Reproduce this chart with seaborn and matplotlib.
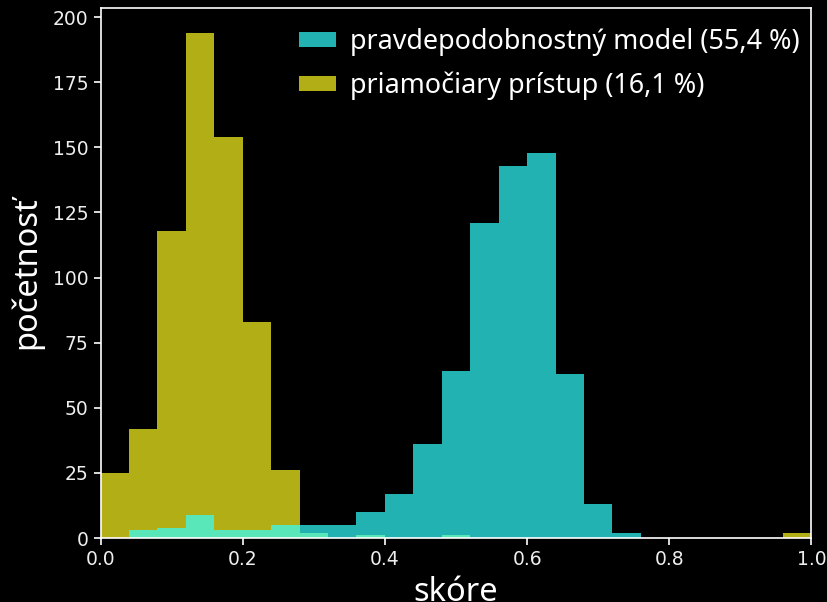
import numpy as np
import pandas as pd
import matplotlib
matplotlib.use("Agg")
import matplotlib.pyplot as plt
import seaborn as sns

# Histogram bins: 25 bins of width 0.04 on [0, 1]
bin_width = 0.04
bin_edges = np.linspace(0.0, 1.0, 26)
bin_centers = (bin_edges[:-1] + bin_edges[1:]) / 2

label_model = "pravdepodobnostný model (55,4 %)"
label_direct = "priamočiary prístup (16,1 %)"

# Counts per bin for each method
counts_model = [0, 3, 4, 9, 3, 3, 5, 5, 5, 10, 17, 36, 64,
                121, 143, 148, 63, 13, 2, 0, 0, 0, 0, 0, 0]
counts_direct = [25, 42, 118, 194, 154, 83, 26, 2, 0, 1, 0, 0, 1,
                 0, 0, 0, 0, 0, 0, 0, 0, 0, 0, 0, 2]

df = pd.DataFrame({
    "skóre": np.concatenate([bin_centers, bin_centers]),
    "počet": counts_model + counts_direct,
    "metóda": [label_model] * len(bin_centers) + [label_direct] * len(bin_centers),
})

sns.set_style("dark", {"axes.facecolor": "black", "figure.facecolor": "black"})
plt.rcParams["font.family"] = ["DejaVu Sans"]

fig = plt.figure(figsize=(8.28, 6.02), dpi=100)
ax = fig.add_axes([0.1214, 0.1063, 0.8586, 0.8812])
ax.set_facecolor("black")
fig.patch.set_facecolor("black")

palette = {label_model: "#33ffff", label_direct: "#fffa20"}
sns.histplot(
    data=df, x="skóre", weights="počet", hue="metóda",
    hue_order=[label_model, label_direct], palette=palette,
    binwidth=bin_width, binrange=(0.0, 1.0), multiple="layer",
    alpha=0.7, linewidth=0, ax=ax, legend=True,
)

ax.set_xlim(0, 1)
ax.set_ylim(0, 194 * 1.05)
ax.set_xticks([0.0, 0.2, 0.4, 0.6, 0.8, 1.0])
ax.set_yticks([0, 25, 50, 75, 100, 125, 150, 175, 200])
ax.grid(False)

for side in ["left", "right", "top", "bottom"]:
    ax.spines[side].set_visible(True)
    ax.spines[side].set_color("white")
    ax.spines[side].set_linewidth(1.2)

ax.tick_params(axis="both", colors="white", labelcolor="#eeeeee",
               labelsize=13.5, direction="out", length=5, width=1.2,
               bottom=True, left=True)

ax.set_xlabel("skóre", color="white", fontsize=23.5, family="Noto Sans", labelpad=5)
ax.set_ylabel("početnosť", color="white", fontsize=23.5, family="Noto Sans", labelpad=7)

sns.move_legend(
    ax, "upper right", bbox_to_anchor=(0.9966, 0.9785), title=None,
    frameon=False, prop={"family": "Noto Sans", "size": 19.4},
    labelcolor="white", handlelength=1.4, handleheight=0.5,
    handletextpad=0.5, borderaxespad=0.0, borderpad=0.35,
    labelspacing=0.56,
)

fig.savefig("out.png", dpi=100, facecolor="black")
